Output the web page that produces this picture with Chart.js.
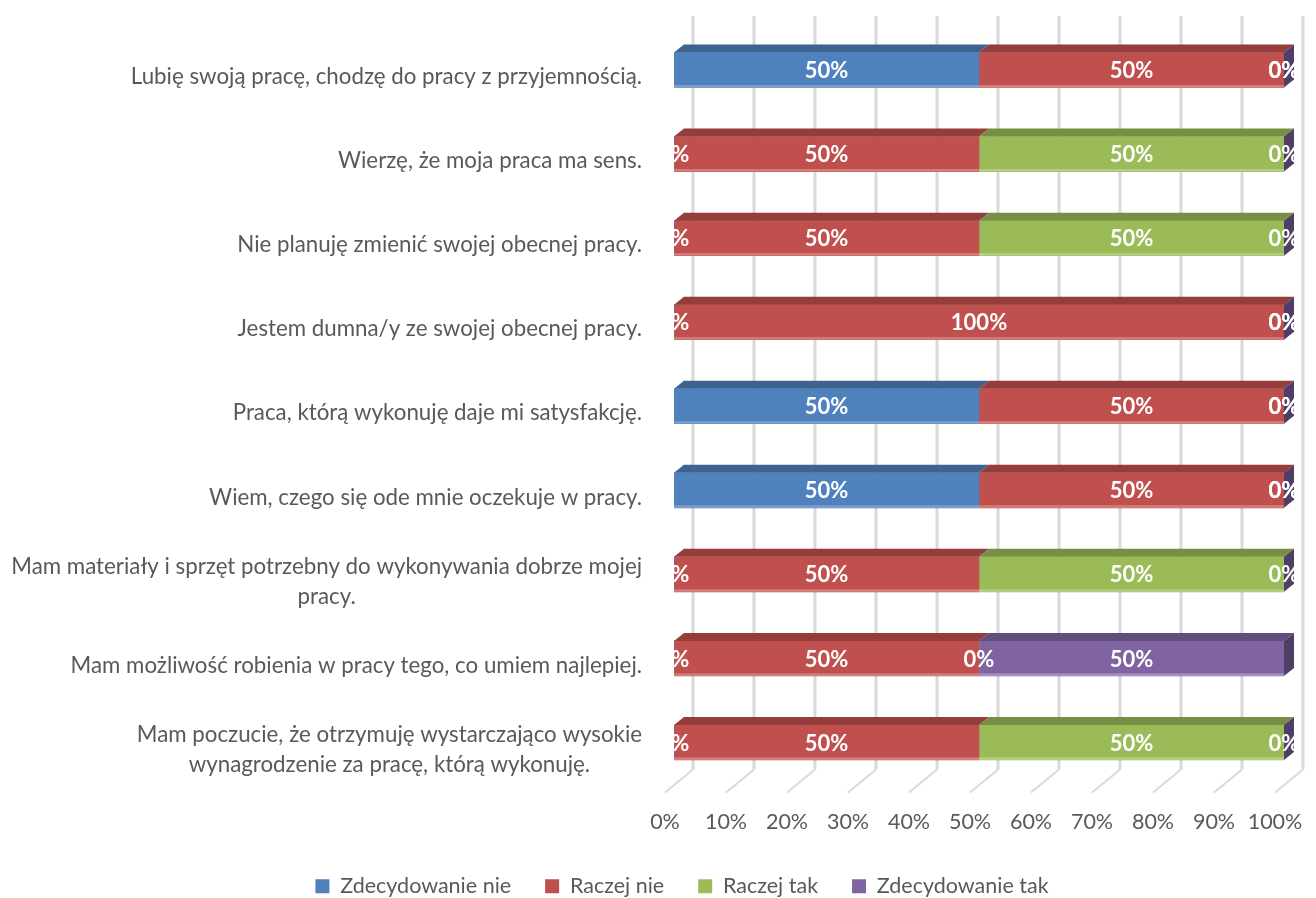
<!DOCTYPE html>
<html lang="pl">
<head>
<meta charset="utf-8">
<title>Zadowolenie z pracy</title>
<script src="https://cdn.jsdelivr.net/npm/chart.js@4.4.1/dist/chart.umd.min.js"></script>
<style>
  html, body { margin: 0; padding: 0; background: #ffffff; }
  #wrap { width: 1316px; height: 898px; position: relative; }
</style>
</head>
<body>
<div id="wrap"><canvas id="chart" width="1316" height="898"></canvas></div>
<script>
// ---- data ----
const categories = [
  'Lubię swoją pracę, chodzę do pracy z przyjemnością.',
  'Wierzę, że moja praca ma sens.',
  'Nie planuję zmienić swojej obecnej pracy.',
  'Jestem dumna/y ze swojej obecnej pracy.',
  'Praca, którą wykonuję daje mi satysfakcję.',
  'Wiem, czego się ode mnie oczekuje w pracy.',
  ['Mam materiały i sprzęt potrzebny do wykonywania dobrze mojej', 'pracy.'],
  'Mam możliwość robienia w pracy tego, co umiem najlepiej.',
  ['Mam poczucie, że otrzymuję wystarczająco wysokie', 'wynagrodzenie za pracę, którą wykonuję.']
];
const seriesNames = ['Zdecydowanie nie', 'Raczej nie', 'Raczej tak', 'Zdecydowanie tak'];
const zdecydowanieNie = [50, 0, 0, 0, 50, 50, 0, 0, 0];
const raczejNie      = [50, 50, 50, 100, 50, 50, 50, 50, 50];
const raczejTak      = [0, 50, 50, 0, 0, 0, 50, 0, 50];
const zdecydowanieTak = [0, 0, 0, 0, 0, 0, 0, 50, 0];
const axisMin = 0;
const axisMax = 100;
const axisStep = 10;

// ---- look ----
const palette = [
  { front: '#4F81BD', top: '#3D6391', edge: '#7C9FCB' },
  { front: '#C0504D', top: '#943D3B', edge: '#D3807D' },
  { front: '#9BBB59', top: '#778F45', edge: '#B6CD89' },
  { front: '#8064A2', top: '#624D7D', edge: '#A692C0', side: '#4F3F66' }
];
const textGrey = '#595959';
const baseFont = 'Lato, "Open Sans", sans-serif';
const BAR_DEPTH = { dx: 10, dy: 8 };   // visible depth of each 3D bar
const WALL = { dx: 19, dy: 15 };       // back wall shift from the bar front plane
const FLOOR = { dx: -9, dy: 8 };       // front edge of the floor

const seriesValues = [zdecydowanieNie, raczejNie, raczejTak, zdecydowanieTak];

// gridlines on the back wall plus the short floor segments
const wallGrid = {
  id: 'wallGrid',
  beforeDatasetsDraw(chart) {
    const { ctx, chartArea: a, scales: { x } } = chart;
    ctx.save();
    ctx.strokeStyle = '#D9D9D9';
    x.ticks.forEach(t => {
      const px = Math.round(x.getPixelForValue(t.value));
      ctx.lineWidth = 3;
      ctx.beginPath();
      ctx.moveTo(px + WALL.dx, a.top - WALL.dy + 3);
      ctx.lineTo(px + WALL.dx, a.bottom - WALL.dy);
      ctx.stroke();
      ctx.lineWidth = 2;
      ctx.beginPath();
      ctx.moveTo(px + WALL.dx, a.bottom - WALL.dy);
      ctx.lineTo(px + FLOOR.dx, a.bottom + FLOOR.dy);
      ctx.stroke();
    });
    ctx.restore();
  }
};

// top faces, lower highlight and the closing side face of every stack
const barFaces = {
  id: 'barFaces',
  afterDatasetsDraw(chart) {
    const ctx = chart.ctx;
    const last = chart.data.datasets.length - 1;
    ctx.save();
    chart.data.datasets.forEach((ds, di) => {
      const meta = chart.getDatasetMeta(di);
      const look = palette[di];
      meta.data.forEach(el => {
        const p = el.getProps(['x', 'y', 'base', 'height'], true);
        const x0 = Math.min(p.base, p.x), x1 = Math.max(p.base, p.x);
        const top = p.y - p.height / 2, bottom = p.y + p.height / 2;
        if (x1 - x0 > 0.5) {
          ctx.fillStyle = look.edge;
          ctx.fillRect(x0, bottom - 2.5, x1 - x0, 2.5);
          ctx.fillStyle = look.top;
          ctx.beginPath();
          ctx.moveTo(x0, top);
          ctx.lineTo(x0 + BAR_DEPTH.dx, top - BAR_DEPTH.dy);
          ctx.lineTo(x1 + BAR_DEPTH.dx, top - BAR_DEPTH.dy);
          ctx.lineTo(x1, top);
          ctx.closePath();
          ctx.fill();
        }
        if (di === last) {
          ctx.fillStyle = look.side;
          ctx.beginPath();
          ctx.moveTo(x1, top);
          ctx.lineTo(x1 + BAR_DEPTH.dx, top - BAR_DEPTH.dy);
          ctx.lineTo(x1 + BAR_DEPTH.dx, bottom - BAR_DEPTH.dy);
          ctx.lineTo(x1, bottom);
          ctx.closePath();
          ctx.fill();
        }
      });
    });
    ctx.restore();
  }
};

// percentage labels in the middle of each segment
const valueLabels = {
  id: 'valueLabels',
  afterDatasetsDraw(chart) {
    const { ctx, chartArea: a } = chart;
    ctx.save();
    ctx.beginPath();
    ctx.rect(a.left, 0, a.right + BAR_DEPTH.dx + 1 - a.left, chart.height);
    ctx.clip();
    ctx.font = 'bold 22px ' + baseFont;
    ctx.fillStyle = '#FFFFFF';
    ctx.textAlign = 'center';
    ctx.textBaseline = 'middle';
    chart.data.datasets.forEach((ds, di) => {
      chart.getDatasetMeta(di).data.forEach((el, i) => {
        const p = el.getProps(['x', 'y', 'base'], true);
        ctx.fillText(ds.data[i] + '%', (p.x + p.base) / 2, p.y + 1);
      });
    });
    ctx.restore();
  }
};

// category names, right-aligned block with centred lines
const categoryLabels = {
  id: 'categoryLabels',
  afterDraw(chart) {
    const { ctx, chartArea: a, scales: { y } } = chart;
    const right = a.left - 32;
    const lineH = 30;
    ctx.save();
    ctx.font = '22.3px ' + baseFont;
    ctx.fillStyle = textGrey;
    ctx.textAlign = 'center';
    ctx.textBaseline = 'middle';
    chart.data.labels.forEach((lab, i) => {
      const lines = Array.isArray(lab) ? lab : [lab];
      const w = Math.max(...lines.map(l => ctx.measureText(l).width));
      const cx = right - w / 2;
      const cy = y.getPixelForValue(i) + 7;
      lines.forEach((l, k) => {
        ctx.fillText(l, cx, cy + (k - (lines.length - 1) / 2) * lineH);
      });
    });
    ctx.restore();
  }
};

const chart = new Chart(document.getElementById('chart'), {
  type: 'bar',
  data: {
    labels: categories,
    datasets: seriesNames.map((name, i) => ({
      label: name,
      data: seriesValues[i],
      backgroundColor: palette[i].front,
      borderWidth: 0,
      barThickness: 35
    }))
  },
  options: {
    indexAxis: 'y',
    responsive: false,
    animation: false,
    devicePixelRatio: 1,
    layout: { padding: { top: 28, left: 80, right: 32, bottom: -9 } },
    scales: {
      x: {
        stacked: true,
        min: axisMin,
        max: axisMax,
        grid: { display: false },
        border: { display: false },
        ticks: {
          stepSize: axisStep,
          padding: 17,
          labelOffset: -9,
          color: textGrey,
          font: { family: baseFont, size: 21.5 },
          callback: v => v + '%'
        },
        afterFit(scale) {
          scale.height = 57;
          scale.paddingLeft = 0;
          scale.paddingRight = 0;
        }
      },
      y: {
        stacked: true,
        grid: { display: false },
        border: { display: false },
        ticks: { display: false },
        afterFit(scale) { scale.width = 594; }
      }
    },
    plugins: {
      legend: {
        position: 'bottom',
        labels: {
          boxWidth: 14,
          boxHeight: 14,
          padding: 34,
          color: textGrey,
          font: { family: baseFont, size: 21.5 }
        }
      },
      tooltip: { enabled: false }
    }
  },
  plugins: [wallGrid, barFaces, valueLabels, categoryLabels]
});
</script>
</body>
</html>
